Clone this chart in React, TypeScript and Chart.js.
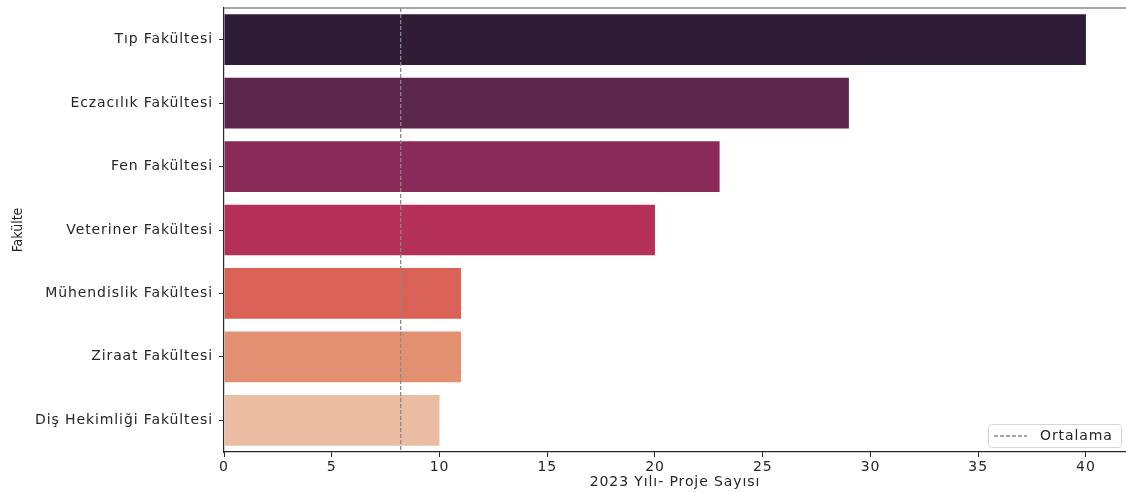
import React, { useEffect, useRef } from "react";
import { Chart, registerables } from "chart.js";

Chart.register(...registerables);

const categories = [
  "Tıp Fakültesi",
  "Eczacılık Fakültesi",
  "Fen Fakültesi",
  "Veteriner Fakültesi",
  "Mühendislik Fakültesi",
  "Ziraat Fakültesi",
  "Diş Hekimliği Fakültesi",
];
const projectCounts = [40, 29, 23, 20, 11, 11, 10];
const barColors = ["#2f1d38", "#5c264c", "#892a58", "#b43058", "#d96155", "#e29072", "#ebbea3"];
const meanValue = 8.2;
const xTicks = [0, 5, 10, 15, 20, 25, 30, 35, 40];
const legendLabel = "Ortalama";
const xTitle = "2023 Yılı- Proje Sayısı";
const yTitle = "Fakülte";

const FONT = "'DejaVu Sans', sans-serif";

const overlayPlugin = {
  id: "overlay",
  beforeDraw(chart: any) {
    chart.ctx.letterSpacing = "0.9px";
  },
  afterDatasetsDraw(chart: any) {
    const { ctx, chartArea, scales } = chart;
    ctx.save();
    // top spine
    ctx.strokeStyle = "#8a8a8a";
    ctx.lineWidth = 1.5;
    ctx.beginPath();
    ctx.moveTo(chartArea.left, chartArea.top);
    ctx.lineTo(chartArea.right + 10, chartArea.top);
    ctx.stroke();
    // mean line
    const x = scales.x.getPixelForValue(meanValue);
    ctx.strokeStyle = "#888888";
    ctx.lineWidth = 1.3;
    ctx.setLineDash([4, 2]);
    ctx.beginPath();
    ctx.moveTo(x, chartArea.top);
    ctx.lineTo(x, chartArea.bottom);
    ctx.stroke();
    // legend box
    const bx = 988, by = 424, bw = 133, bh = 23;
    ctx.setLineDash([]);
    ctx.fillStyle = "rgba(255,255,255,0.85)";
    ctx.strokeStyle = "#d6d6d6";
    ctx.lineWidth = 1;
    ctx.beginPath();
    (ctx as any).roundRect(bx + 0.5, by + 0.5, bw, bh, 3);
    ctx.fill();
    ctx.stroke();
    ctx.strokeStyle = "#888888";
    ctx.lineWidth = 1.3;
    ctx.setLineDash([4, 2]);
    ctx.beginPath();
    ctx.moveTo(994, by + 12);
    ctx.lineTo(1027, by + 12);
    ctx.stroke();
    ctx.setLineDash([]);
    ctx.fillStyle = "#262626";
    ctx.font = `14px ${FONT}`;
    ctx.letterSpacing = "0.9px";
    ctx.textBaseline = "middle";
    ctx.textAlign = "left";
    ctx.fillText(legendLabel, 1040, by + 12);
    // y title
    ctx.letterSpacing = "0px";
    ctx.font = `14px 'DejaVu Sans Condensed', 'DejaVu Sans', sans-serif`;
    ctx.translate(18, (chartArea.top + chartArea.bottom) / 2);
    ctx.rotate(-Math.PI / 2);
    ctx.textAlign = "center";
    ctx.textBaseline = "middle";
    ctx.fillText(yTitle, 0, 0);
    ctx.restore();
  },
};

export default function App() {
  const ref = useRef<HTMLCanvasElement>(null);
  useEffect(() => {
    if (!ref.current) return;
    const chart = new Chart(ref.current, {
      type: "bar",
      data: {
        labels: categories,
        datasets: [
          {
            data: projectCounts,
            backgroundColor: barColors,
            borderWidth: 0,
            barPercentage: 0.8,
            categoryPercentage: 1,
          },
        ],
      },
      options: {
        indexAxis: "y",
        animation: false,
        responsive: false,
        layout: { padding: { top: 8, right: 0, left: 0, bottom: 0 } },
        plugins: { legend: { display: false }, tooltip: { enabled: false } },
        scales: {
          x: {
            min: 0,
            max: 41.86,
            afterBuildTicks(scale: any) {
              scale.ticks = xTicks.map((v) => ({ value: v }));
            },
            afterFit(scale: any) {
              scale.height = 40;
            },
            grid: { display: true, drawOnChartArea: false, drawTicks: true, tickLength: 5, color: "#262626" },
            border: { display: true, color: "#262626", width: 1.2 },
            ticks: { color: "#262626", font: { family: FONT, size: 14 }, padding: 2, maxRotation: 0 },
            title: { display: true, text: xTitle, color: "#262626", font: { family: FONT, size: 14 }, padding: { top: 0, bottom: 1 } },
          },
          y: {
            afterFit(scale: any) {
              scale.width = 224;
              scale.paddingTop = 0;
              scale.paddingBottom = 0;
            },
            grid: { display: true, offset: false, drawOnChartArea: false, drawTicks: true, tickLength: 5, color: "#262626" },
            border: { display: true, color: "#262626", width: 1.2 },
            ticks: { color: "#262626", font: { family: FONT, size: 14 }, padding: 6 },
            title: { display: false },
          },
        },
      },
      plugins: [overlayPlugin],
    });
    return () => chart.destroy();
  }, []);
  return (
    <div style={{ position: "fixed", left: 0, top: 0, width: 1126, height: 492, background: "#fff" }}>
      <canvas ref={ref} width={1126} height={492} style={{ width: 1126, height: 492 }} />
    </div>
  );
}
